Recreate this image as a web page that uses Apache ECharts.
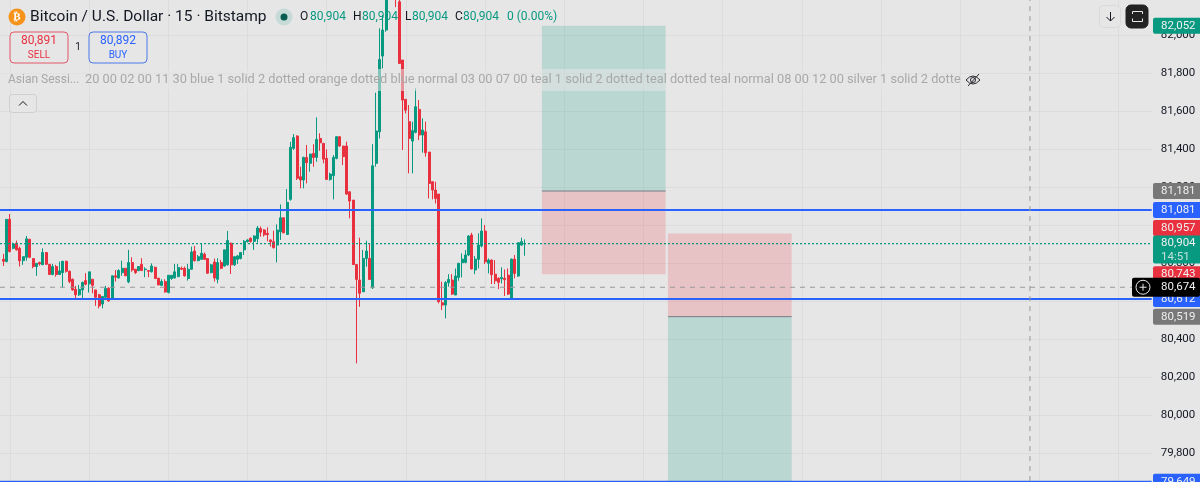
<!DOCTYPE html>
<html>
<head>
<meta charset="utf-8">
<title>BTCUSD 15m</title>
<style>html,body{margin:0;padding:0;background:#e6e6e6;overflow:hidden}#chart{width:1200px;height:482px}</style>
<script src="https://cdn.jsdelivr.net/npm/echarts@6/dist/echarts.min.js"></script>
</head>
<body>
<div id="chart"></div>
<script>
// 15-minute BTC/USD candles, oldest first.
const opens = [80821,80809,81032,80879,80906,80879,80814,80832,80927,80825,80783,80804,80793,80857,80795,80741,80783,80741,80751,80811,80758,80716,80663,80634,80660,80709,80692,80716,80660,80634,80586,80621,80669,80614,80734,80723,80751,80774,80702,80804,80769,80762,80795,80767,80762,80756,80779,80721,80684,80704,80646,80720,80723,80730,80774,80774,80720,80769,80865,80814,80821,80848,80825,80751,80807,80716,80804,80786,80792,80906,80792,80821,80825,80871,80915,80932,80916,80930,80983,80976,80958,80923,80914,80896,80966,81040,80952,81137,81406,81471,81256,81239,81358,81327,81379,81358,81458,81432,81353,81242,81262,81353,81467,81418,81418,81177,81133,80794,80712,80650,80826,80826,80671,81327,81493,81892,82029,82210,82290,82260,82178,81871,81664,81546,81444,81490,81611,81476,81493,81386,81230,81186,81165,80592,80580,80698,80712,80633,80726,80803,80805,80844,80949,80765,80821,80891,80970,80800,80817,80743,80721,80719,80721,80738,80612,80822,80733,80896,80902];
const closes = [80811,81032,80862,80902,80871,80813,80835,80929,80832,80783,80800,80797,80857,80795,80741,80783,80741,80760,80811,80758,80704,80660,80634,80663,80699,80690,80755,80684,80621,80576,80625,80667,80602,80734,80727,80762,80774,80734,80804,80765,80751,80783,80762,80770,80758,80786,80720,80686,80704,80649,80737,80737,80755,80778,80769,80734,80769,80860,80814,80835,80853,80821,80748,80792,80723,80804,80774,80871,80920,80792,80835,80839,80857,80916,80923,80915,80944,80986,80964,80950,80951,80914,80882,80975,81040,80961,81121,81411,81462,81248,81239,81358,81330,81376,81358,81453,81435,81349,81242,81270,81358,81467,81418,81362,81165,81128,80794,80715,80642,80826,80865,80715,81314,81497,81874,82029,82190,82290,82260,82225,81853,81660,81607,81458,81499,81625,81476,81502,81383,81221,81186,81142,80598,80580,80698,80715,80638,80733,80800,80822,80844,80944,80770,80822,80896,80970,80808,80817,80740,80708,80700,80726,80714,80638,80822,80747,80909,80914,80904];
const lows = [80786,80806,80857,80874,80867,80783,80792,80814,80827,80774,80734,80788,80790,80792,80739,80737,80730,80741,80674,80751,80695,80656,80611,80628,80616,80684,80646,80642,80576,80563,80563,80611,80598,80611,80704,80720,80734,80734,80695,80756,80744,80758,80762,80727,80727,80751,80720,80686,80681,80646,80642,80713,80720,80727,80765,80730,80709,80765,80809,80811,80818,80818,80744,80748,80704,80695,80769,80783,80788,80744,80786,80797,80821,80844,80909,80909,80871,80909,80941,80941,80916,80888,80879,80805,80923,80958,80950,81130,81398,81239,81195,81195,81221,81283,81309,81335,81393,81327,81239,81235,81137,81348,81414,81318,81160,81037,80791,80273,80571,80650,80782,80712,80665,81309,81458,81827,82020,82200,82250,82150,81853,81397,81590,81274,81274,81485,81449,81383,81362,81142,81137,81115,80589,80554,80510,80677,80633,80633,80708,80726,80800,80838,80768,80743,80773,80884,80796,80747,80691,80691,80664,80694,80628,80633,80610,80721,80729,80893,80840];
const highs = [80850,81032,81060,80909,80920,80888,80835,80944,80927,80825,80800,80809,80879,80860,80795,80797,80792,80809,80811,80814,80762,80720,80681,80686,80704,80748,80755,80716,80660,80639,80628,80681,80674,80734,80765,80769,80814,80774,80871,80832,80769,80786,80827,80779,80762,80800,80783,80725,80716,80716,80737,80737,80797,80797,80783,80783,80797,80888,80892,80844,80906,80857,80825,80797,80825,80827,80818,80871,80971,80909,80839,80844,80857,80923,80927,80936,80948,80997,80994,80980,80990,80926,80972,81005,81110,81040,81191,81440,81481,81474,81309,81362,81423,81376,81428,81569,81485,81432,81400,81277,81370,81471,81471,81418,81441,81177,81133,80794,80935,80870,80919,80905,81428,81699,82038,82108,82240,82330,82300,82300,82210,81871,81664,81634,81546,81722,81660,81564,81546,81386,81230,81230,81165,80703,80707,80743,80743,80773,80803,80852,80870,80947,80961,80838,80958,81037,81002,80826,80821,80817,80726,80779,80768,80773,80826,80844,80909,80935,80926];

// Horizontal support and resistance levels.
const levelPrices = [81081, 80612, 79649];
const lastPrice = 80904;
const crosshairPrice = 80674;
const crosshairSlot = 312.1;

// Long and short position tools: entry, stop and target.
const positionSlots = [[164.2, 201.7], [202.4, 239.9]];
const shortEntry = [81181, 80519];
const stopEdge = [80743, 80957];
const targetEdge = [82052, 79649];

// Tags on the price scale, painted in this order.
const tagPrices = [82052, 81181, 81081, 80957, 80904, 80743, 80612, 80519, 79649, 80674];
const tagTexts = ['82,052', '81,181', '81,081', '80,957', '80,904', '80,743', '80,612', '80,519', '79,649', '80,674'];
const tagColors = ['#089981', '#787878', '#2962ff', '#e8303f', '#089981', '#e8303f', '#2962ff', '#787878', '#2962ff', '#000000'];
const tagShift = [0, 0, 0, -5.6, 0, 0, 0, 0, 0, 0];

const slotCount = 350;
const slots = Array.from({length: slotCount}, (_, i) => String(i));

const FONT = 'Roboto, sans-serif';
const GREEN = '#089981', RED = '#e8303f', BLUE = '#2962ff';
const fmt = v => Math.round(v).toLocaleString('en-US');

const candleData = opens.map((o, i) => [i + 1, o, closes[i], lows[i], highs[i]]);

// A straight overlay line drawn on the hidden slot-valued axis.
function overlayLine(points, color, width, type, z) {
  return {
    type: 'line', xAxisIndex: 1, yAxisIndex: 0, data: points, symbol: 'none', silent: true, z,
    lineStyle: {color, width, type}, animation: false
  };
}

// Shaded zones and the dark entry edge of each position tool.
function renderPosition(params, api) {
  const i = params.dataIndex;
  const [a, b] = positionSlots[i];
  const entry = shortEntry[i], stop = stopEdge[i], target = targetEdge[i];
  const zone = (p, q, fill) => {
    const p0 = api.coord([a, Math.max(p, q)]), p1 = api.coord([b, Math.min(p, q)]);
    return {type: 'rect', shape: {x: p0[0], y: p0[1], width: p1[0] - p0[0], height: p1[1] - p0[1]}, style: {fill}};
  };
  const e0 = api.coord([a, entry]), e1 = api.coord([b, entry]);
  return {type: 'group', children: [
    zone(entry, target, 'rgba(8,153,129,0.2)'),
    zone(entry, stop, 'rgba(242,54,69,0.2)'),
    {type: 'line', shape: {x1: e0[0], y1: e0[1], x2: e1[0], y2: e1[1]}, style: {stroke: '#787b86', lineWidth: 1}}
  ]};
}

// Coloured price tags on the right-hand scale.
function renderTag(params, api) {
  const i = params.dataIndex;
  const pt = api.coord([slotCount - 1, tagPrices[i]]);
  const cy = pt[1] + tagShift[i];
  const x = 1153, w = 47, h = 16;
  const isLast = tagPrices[i] === lastPrice;
  const isCross = tagPrices[i] === crosshairPrice;
  const children = [];
  if (isCross) {
    children.push({type: 'rect', shape: {x: 1132, y: cy - 9.5, width: 68, height: 19, r: 2}, style: {fill: '#000'}});
    children.push({type: 'circle', shape: {cx: 1143, cy, r: 7}, style: {fill: 'none', stroke: '#e8e8e8', lineWidth: 1}});
    children.push({type: 'line', shape: {x1: 1139.5, y1: cy, x2: 1146.5, y2: cy}, style: {stroke: '#e8e8e8', lineWidth: 1}});
    children.push({type: 'line', shape: {x1: 1143, y1: cy - 3.5, x2: 1143, y2: cy + 3.5}, style: {stroke: '#e8e8e8', lineWidth: 1}});
  } else {
    children.push({type: 'rect', shape: {x, y: cy - h / 2, width: w, height: isLast ? 28 : h, r: [2, 0, 0, 2]}, style: {fill: tagColors[i]}});
  }
  children.push({type: 'text', style: {x: 1161, y: cy, text: tagTexts[i], fill: '#f0f0f0', font: '11.5px ' + FONT, verticalAlign: 'middle', align: 'left'}});
  if (isLast) {
    children.push({type: 'text', style: {x: 1161, y: cy + 14, text: '14:51', fill: '#c2e0da', font: '11.5px ' + FONT, verticalAlign: 'middle', align: 'left'}});
  }
  return {type: 'group', children};
}

const txt = (x, y, text, fill, size, extra) => ({
  type: 'text', z: 100, style: Object.assign({x, y, text, fill, font: size + 'px ' + FONT, verticalAlign: 'middle'}, extra || {})
});
const box = (x, y, width, height, r, fill, stroke) => ({
  type: 'rect', z: 100, shape: {x, y, width, height, r}, style: {fill, stroke, lineWidth: 1}
});
const stroke = (points, color, width) => ({
  type: 'polyline', z: 101, shape: {points}, style: {fill: 'none', stroke: color, lineWidth: width || 1}
});
const curve = (x1, y1, cpx1, cpy1, x2, y2, color) => ({
  type: 'bezierCurve', z: 101, shape: {x1, y1, cpx1, cpy1, x2, y2}, style: {fill: 'none', stroke: color, lineWidth: 1}
});

const ohlcBits = [
  ['O', 300], ['80,904', 310], ['H', 353], ['80,904', 362], ['L', 405], ['80,904', 412], ['C', 455], ['80,904', 463], ['0 (0.00%)', 507]
];

const chart = echarts.init(document.getElementById('chart'), null, {renderer: 'canvas'});
chart.setOption({
  animation: false,
  backgroundColor: '#e6e6e6',
  grid: {left: 0, width: 1151.7, top: -2.4, height: 493.5, containLabel: false, outerBoundsMode: 'none'},
  xAxis: [
    {type: 'category', data: slots, boundaryGap: false, show: true,
     axisLine: {show: false}, axisTick: {show: false}, axisLabel: {show: false},
     splitLine: {show: true, interval: i => (i - 3) % 24 === 0, lineStyle: {color: '#dcdcdc', width: 1}}},
    {type: 'value', min: 0, max: slotCount - 1, show: false}
  ],
  yAxis: [{
    type: 'value', position: 'right', min: 79600, max: 82200, interval: 200, scale: true,
    axisLine: {show: false}, axisTick: {show: false},
    axisLabel: {color: '#131722', fontSize: 11.5, fontFamily: FONT, margin: 9, padding: [0, 0, 3, 0],
      formatter: v => (v > 82100 || v < 79700) ? '' : fmt(v)},
    splitLine: {show: true, lineStyle: {color: '#dcdcdc', width: 1}}
  }],
  series: [
    {type: 'candlestick', name: 'BTCUSD', xAxisIndex: 0, yAxisIndex: 0, data: candleData, barWidth: 2.5, z: 5, silent: true,
     encode: {x: 0, y: [1, 2, 3, 4]},
     itemStyle: {color: GREEN, color0: RED, borderColor: GREEN, borderColor0: RED, borderWidth: 1}},
    {type: 'custom', name: 'positions', xAxisIndex: 1, yAxisIndex: 0, z: 3, silent: true,
     data: positionSlots.map((s, i) => [s[0], shortEntry[i]]), encode: {x: 0, y: 1}, renderItem: renderPosition},
    overlayLine([[0, levelPrices[0]], [slotCount - 1, levelPrices[0]]], BLUE, 2, 'solid', 6),
    overlayLine([[0, levelPrices[1]], [slotCount - 1, levelPrices[1]]], BLUE, 2, 'solid', 6),
    overlayLine([[0, levelPrices[2]], [slotCount - 1, levelPrices[2]]], BLUE, 2, 'solid', 6),
    overlayLine([[0, lastPrice], [slotCount - 1, lastPrice]], GREEN, 1.2, [2, 2], 6),
    overlayLine([[0, crosshairPrice], [slotCount - 1, crosshairPrice]], '#999999', 1, [5, 5], 6),
    overlayLine([[crosshairSlot, 79600], [crosshairSlot, 82200]], '#999999', 1, [5, 5], 6),
    {type: 'custom', name: 'tags', xAxisIndex: 1, yAxisIndex: 0, z: 50, silent: true, clip: false,
     data: tagPrices.map(p => [slotCount - 1, p]), encode: {x: 0, y: 1}, renderItem: renderTag}
  ],
  graphic: {elements: [
    // Translucent strip behind the indicator legend
    box(0, 69, 960, 22, 0, 'rgba(230,230,230,0.55)', 'transparent'),
    // Symbol title and OHLC readout
    {type: 'circle', z: 100, shape: {cx: 17, cy: 17, r: 8.5}, style: {fill: '#f7931a'}},
    {type: 'text', z: 101, style: {x: 17, y: 17, text: '₿', fill: '#fff', font: 'bold 11px "DejaVu Sans"', align: 'center', verticalAlign: 'middle'}},
    txt(30, 17, 'Bitcoin / U.S. Dollar · 15 · Bitstamp', '#131722', 15.5),
    {type: 'circle', z: 100, shape: {cx: 284, cy: 17, r: 8.5}, style: {fill: '#c6dbd7'}},
    {type: 'circle', z: 101, shape: {cx: 284, cy: 17, r: 3.5}, style: {fill: '#075e50'}},
    ...ohlcBits.map(([t, x]) => txt(x, 17, t, /^[OHLC]$/.test(t) ? '#131722' : GREEN, 12)),
    // Sell and buy buttons
    box(10, 32, 58, 31, 4, 'rgba(230,230,230,0.6)', '#e0576a'),
    txt(39, 41, '80,891', RED, 12, {align: 'center'}),
    txt(39, 55, 'SELL', RED, 10, {align: 'center'}),
    txt(78, 47.5, '1', '#131722', 10, {align: 'center'}),
    box(89, 32, 58, 31, 4, 'rgba(230,230,230,0.6)', '#4a78e8'),
    txt(118, 41, '80,892', BLUE, 12, {align: 'center'}),
    txt(118, 55, 'BUY', BLUE, 10, {align: 'center'}),
    // Indicator legend line
    txt(8, 80, 'Asian Sessi...', '#a8a8a8', 12),
    txt(85, 80, '20 00 02 00 11 30 blue 1 solid 2 dotted orange dotted blue normal 03 00 07 00 teal 1 solid 2 dotted teal dotted teal normal 08 00 12 00 silver 1 solid 2 dotte', '#a8a8a8', 12.75),
    curve(966, 80, 973, 72, 980, 80, '#26282e'),
    curve(966, 80, 973, 88, 980, 80, '#26282e'),
    {type: 'circle', z: 101, shape: {cx: 973, cy: 80, r: 2.5}, style: {fill: 'none', stroke: '#26282e', lineWidth: 1}},
    stroke([[968, 86], [979, 74]], '#26282e'),
    // Collapse toggle
    box(9.5, 94.5, 27, 18, 3, '#e6e6e6', '#cfcfcf'),
    stroke([[19, 105.5], [23, 101.5], [27, 105.5]], '#131722'),
    // Top-right scale buttons
    box(1099.5, 5.5, 21, 22, 4, '#e6e6e6', '#dadada'),
    stroke([[1110.5, 12], [1110.5, 21]], '#131722'),
    stroke([[1106.5, 17], [1110.5, 21], [1114.5, 17]], '#131722'),
    box(1126, 5, 22, 23, 5, '#222222', '#222222'),
    stroke([[1132.5, 14], [1132.5, 11.5], [1142.5, 11.5], [1142.5, 14]], '#e8e8e8'),
    stroke([[1132.5, 18.5], [1132.5, 21.5], [1142.5, 21.5], [1142.5, 18.5]], '#e8e8e8')
  ]}
});
</script>
</body>
</html>
